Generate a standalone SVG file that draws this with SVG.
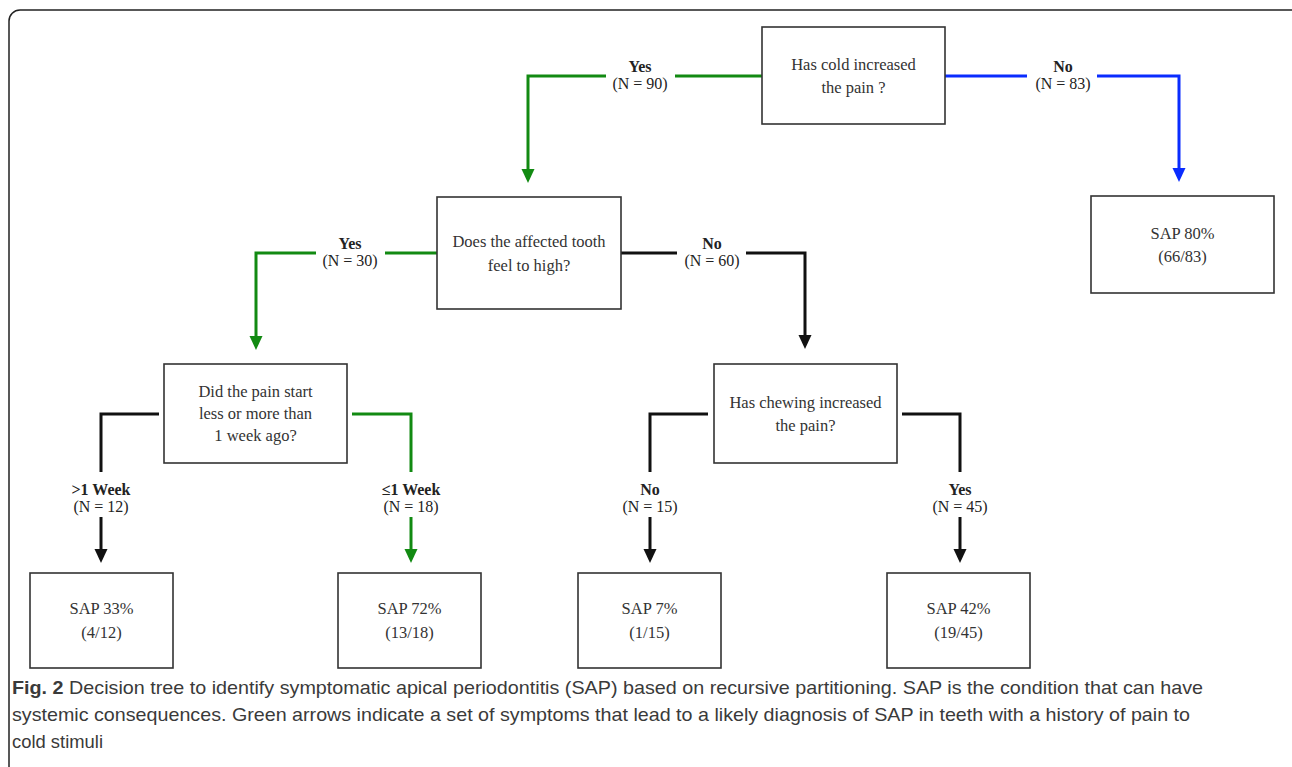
<svg xmlns="http://www.w3.org/2000/svg" width="1292" height="767" viewBox="0 0 1292 767">
<style>
.box{fill:#fff;stroke:#333;stroke-width:1.6}
.nt{font-family:"Liberation Serif","DejaVu Serif",serif;font-size:16.5px;fill:#333;text-anchor:middle}
.lb{font-family:"Liberation Serif","DejaVu Serif",serif;font-size:16px;fill:#222;text-anchor:middle}
.lbb{font-weight:bold}
.c{fill:none;stroke-width:3}
.g{stroke:#128a12}
.b{stroke:#0a2cff}
.k{stroke:#111}
.cap{font-family:"Liberation Sans","Open Sans",sans-serif;font-size:19px;fill:#3a3a3a}
</style>
<defs>
<marker id="ag" viewBox="0 0 14 14" refX="8" refY="7" markerWidth="14" markerHeight="14" markerUnits="userSpaceOnUse" orient="auto"><path d="M0,0.5 L14,7 L0,13.5 z" fill="#128a12"/></marker>
<marker id="ab" viewBox="0 0 14 14" refX="8" refY="7" markerWidth="14" markerHeight="14" markerUnits="userSpaceOnUse" orient="auto"><path d="M0,0.5 L14,7 L0,13.5 z" fill="#0a2cff"/></marker>
<marker id="ak" viewBox="0 0 14 14" refX="8" refY="7" markerWidth="14" markerHeight="14" markerUnits="userSpaceOnUse" orient="auto"><path d="M0,0.5 L14,7 L0,13.5 z" fill="#111"/></marker>
</defs>
<rect x="9" y="10" width="1300" height="800" rx="11" fill="#fff" stroke="#222" stroke-width="1.5"/>

<g id="connectors">
<path class="c g" d="M762,76 H675"/>
<path class="c g" d="M606,76 H528 V177" marker-end="url(#ag)"/>
<text class="lb lbb" x="640" y="72">Yes</text>
<text class="lb" x="640" y="89">(N = 90)</text>
<path class="c b" d="M945,76 H1027"/>
<path class="c b" d="M1097,76 H1179 V176" marker-end="url(#ab)"/>
<text class="lb lbb" x="1063" y="72">No</text>
<text class="lb" x="1063" y="89">(N = 83)</text>
<path class="c g" d="M437,253 H385"/>
<path class="c g" d="M316,253 H256 V344" marker-end="url(#ag)"/>
<text class="lb lbb" x="350" y="249">Yes</text>
<text class="lb" x="350" y="266">(N = 30)</text>
<path class="c k" d="M621,253 H677"/>
<path class="c k" d="M746,253 H805 V343" marker-end="url(#ak)"/>
<text class="lb lbb" x="712" y="249">No</text>
<text class="lb" x="712" y="266">(N = 60)</text>
<path class="c k" d="M159,414 H101 V472"/>
<path class="c k" d="M101,517 V557" marker-end="url(#ak)"/>
<text class="lb lbb" x="101" y="495">&gt;1 Week</text>
<text class="lb" x="101" y="512">(N = 12)</text>
<path class="c g" d="M352,414 H411 V472"/>
<path class="c g" d="M411,517 V557" marker-end="url(#ag)"/>
<text class="lb lbb" x="411" y="495">≤1 Week</text>
<text class="lb" x="411" y="512">(N = 18)</text>
<path class="c k" d="M708,414 H650 V472"/>
<path class="c k" d="M650,517 V557" marker-end="url(#ak)"/>
<text class="lb lbb" x="650" y="495">No</text>
<text class="lb" x="650" y="512">(N = 15)</text>
<path class="c k" d="M902,414 H960 V472"/>
<path class="c k" d="M960,517 V557" marker-end="url(#ak)"/>
<text class="lb lbb" x="960" y="495">Yes</text>
<text class="lb" x="960" y="512">(N = 45)</text>
</g>

<g id="n-cold">
<rect class="box" x="762" y="27" width="183" height="97"/>
<text class="nt" x="853.5" y="70">Has cold increased</text>
<text class="nt" x="853.5" y="93">the pain ?</text>
</g>
<g id="n-high">
<rect class="box" x="437" y="197" width="184" height="112"/>
<text class="nt" x="529" y="247">Does the affected tooth</text>
<text class="nt" x="529" y="271">feel to high?</text>
</g>
<g id="n-week">
<rect class="box" x="164" y="364" width="183" height="99"/>
<text class="nt" x="255.5" y="397">Did the pain start</text>
<text class="nt" x="255.5" y="419">less or more than</text>
<text class="nt" x="255.5" y="441">1 week ago?</text>
</g>
<g id="n-chew">
<rect class="box" x="714" y="364" width="183" height="99"/>
<text class="nt" x="805.5" y="408">Has chewing increased</text>
<text class="nt" x="805.5" y="431">the pain?</text>
</g>
<g id="l-80">
<rect class="box" x="1091" y="196" width="183" height="97"/>
<text class="nt" x="1182.5" y="239">SAP 80%</text>
<text class="nt" x="1182.5" y="262">(66/83)</text>
</g>
<g id="l-33">
<rect class="box" x="30" y="573" width="143" height="95"/>
<text class="nt" x="101.5" y="614">SAP 33%</text>
<text class="nt" x="101.5" y="638">(4/12)</text>
</g>
<g id="l-72">
<rect class="box" x="338" y="573" width="143" height="95"/>
<text class="nt" x="409.5" y="614">SAP 72%</text>
<text class="nt" x="409.5" y="638">(13/18)</text>
</g>
<g id="l-7">
<rect class="box" x="578" y="573" width="143" height="95"/>
<text class="nt" x="649.5" y="614">SAP 7%</text>
<text class="nt" x="649.5" y="638">(1/15)</text>
</g>
<g id="l-42">
<rect class="box" x="887" y="573" width="143" height="95"/>
<text class="nt" x="958.5" y="614">SAP 42%</text>
<text class="nt" x="958.5" y="638">(19/45)</text>
</g>

<g id="caption">
<text class="cap" x="12" y="694" textLength="1191" lengthAdjust="spacingAndGlyphs"><tspan font-weight="bold">Fig. 2</tspan> Decision tree to identify symptomatic apical periodontitis (SAP) based on recursive partitioning. SAP is the condition that can have</text>
<text class="cap" x="12" y="721" textLength="1178" lengthAdjust="spacingAndGlyphs">systemic consequences. Green arrows indicate a set of symptoms that lead to a likely diagnosis of SAP in teeth with a history of pain to</text>
<text class="cap" x="12" y="748" textLength="91" lengthAdjust="spacingAndGlyphs">cold stimuli</text>
</g>
</svg>
